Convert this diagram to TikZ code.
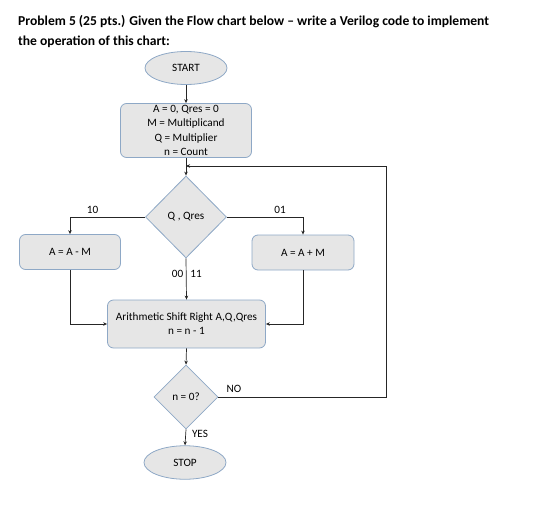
\documentclass[tikz,border=0pt]{standalone}
\usepackage{fontspec}
\setmainfont{Carlito}
\usetikzlibrary{shapes.geometric,arrows.meta}
\definecolor{boxfill}{HTML}{E6E6E6}
\definecolor{boxedge}{HTML}{8EA8C6}
\definecolor{linec}{HTML}{262626}
\tikzset{
  every node/.style={font=\fontsize{11.2}{14.2}\selectfont, text=black},
  term/.style={ellipse, draw=boxedge, fill=boxfill, line width=0.8pt, minimum width=82pt, minimum height=33pt, inner sep=0pt},
  procbox/.style={rectangle, rounded corners=6pt, draw=boxedge, fill=boxfill, line width=0.8pt, inner sep=0pt, align=center},
  decide/.style={diamond, draw=boxedge, fill=boxfill, line width=0.8pt, inner sep=0pt},
  conn/.style={draw=linec, line width=0.7pt, -{Stealth[length=4pt,width=3.5pt]}},
  plain/.style={draw=linec, line width=0.7pt},
  lbl/.style={inner sep=0pt}
}
\begin{document}
\begin{tikzpicture}[x=1pt,y=-1pt]
\useasboundingbox (0,0) rectangle (556,511);
\node[lbl, anchor=north west, align=left, font=\fontsize{13.6}{19.5}\selectfont\bfseries] (title) at (18,15.5)
  {Problem 5 (25 pts.) Given the Flow chart below -- write a Verilog code to implement\\the operation of this chart:};
\node[term] (start) at (186,68) {START};
\node[procbox, minimum width=131pt, minimum height=54pt] (init) at (186,130.5)
  {A = 0, Qres = 0\\M = Multiplicand\\Q = Multiplier\\n = Count};
\node[decide, minimum width=81pt, minimum height=82pt] (d1) at (186,217) {Q , Qres};
\node[procbox, minimum width=101pt, minimum height=35pt] (sub) at (70,252) {A = A - M};
\node[procbox, minimum width=102pt, minimum height=35pt] (add) at (303,252.5) {A = A + M};
\node[procbox, minimum width=158pt, minimum height=48pt] (shift) at (186.5,324)
  {Arithmetic Shift Right A,Q,Qres\\n = n - 1};
\node[decide, minimum width=64pt, minimum height=64pt] (d2) at (186,397) {n = 0?};
\node[term, minimum height=33.5pt] (stop) at (185,462.5) {STOP};

\coordinate (loopR) at (386,166);
\coordinate (join) at (186,166);

\draw[conn] (start) -- (init);
\draw[conn] (init) -- (d1);
\draw[conn] (d1.west) -| (sub.north) node[lbl, pos=0.35, above=3pt] {10};
\draw[conn] (d1.east) -| (add.north) node[lbl, pos=0.35, above=3pt] {01};
\draw[conn] (d1.south) -- (shift.north);
\node[lbl] (l00) at (177.5,273.5) {00};
\node[lbl] (l11) at (196,273.5) {11};
\draw[conn] (sub.south) |- (shift.west);
\draw[conn] (add.south) |- (shift.east);
\draw[conn] (shift.south) -- (d2.north);
\draw[conn] (d2.south) -- (stop.north);
\node[lbl] (yes) at (200,433.5) {YES};
\draw[plain] (d2.east) -| (loopR);
\draw[conn] (loopR) -- (join);
\node[lbl] (no) at (234,389) {NO};
\end{tikzpicture}
\end{document}
